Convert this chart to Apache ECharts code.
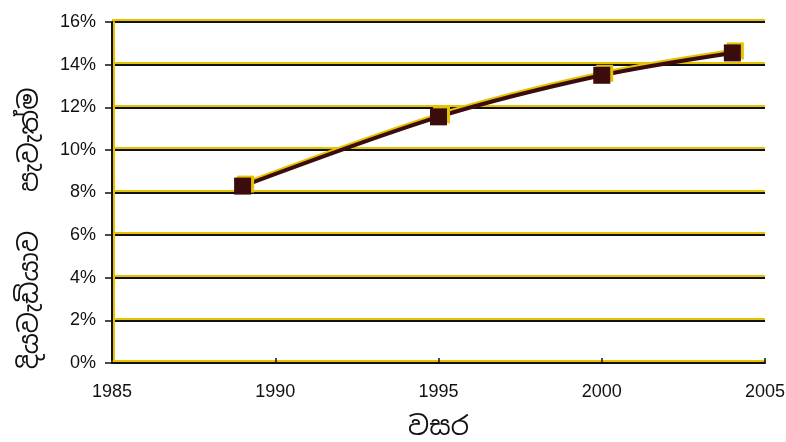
<!DOCTYPE html>
<html>
<head>
<meta charset="utf-8">
<script src="https://cdn.jsdelivr.net/npm/echarts@6/dist/echarts.min.js"></script>
<style>html,body{margin:0;padding:0;background:#fff;}#c{width:786px;height:442px;}</style>
</head>
<body>
<div id="c"></div>
<script>
var years = [1989, 1995, 2000, 2004];
var prevalence = [8.3, 11.55, 13.5, 14.55];
var xTicks = [1985, 1990, 1995, 2000, 2005];
var yTicks = [0, 2, 4, 6, 8, 10, 12, 14, 16];
var xName = 'වසර';
var yName = 'දියවැඩියාව   පැවැත්ම';

var yellow = '#e6c200';
var lblStyle = {
  color: '#111', fontFamily: 'Liberation Sans, Arial, sans-serif', fontSize: 18, letterSpacing: -1,
  textShadowColor: yellow, textShadowOffsetX: 2, textShadowOffsetY: 0, textShadowBlur: 0
};
var chart = echarts.init(document.getElementById('c'));
chart.setOption({
  backgroundColor: '#fff',
  animation: false,
  grid: {left: 112, right: 21, top: 22, bottom: 79, containLabel: false, outerBoundsMode: 'none'},
  xAxis: {
    type: 'value', min: 1985, max: 2005, interval: 5,
    name: xName, nameLocation: 'middle', nameGap: 52,
    nameTextStyle: {fontSize: 26, color: '#111', fontFamily: 'Noto Sans Sinhala, Noto Sans, sans-serif'},
    axisLine: {lineStyle: {color: '#111', width: 2, shadowColor: yellow, shadowOffsetY: -2}},
    axisTick: {inside: true, length: 5, lineStyle: {color: '#111', width: 1.5}},
    splitLine: {show: false},
    axisLabel: Object.assign({margin: 20, formatter: function(v){return xTicks.indexOf(v) >= 0 ? String(v) : '';}}, lblStyle)
  },
  yAxis: {
    type: 'value', min: 0, max: 16, interval: 2,
    name: yName, nameLocation: 'middle', nameRotate: 90, nameGap: 68,
    nameTextStyle: {fontSize: 26, color: '#111', fontFamily: 'Noto Sans Sinhala, Noto Sans, sans-serif', padding: [0, 72, 0, 0]},
    axisLine: {show: true, lineStyle: {color: '#111', width: 2, shadowColor: yellow, shadowOffsetX: 2}},
    axisTick: {show: true, length: 7, lineStyle: {color: '#111', width: 1.5}},
    splitLine: {show: true, lineStyle: {color: '#111', width: 2, shadowColor: yellow, shadowOffsetY: -2, shadowBlur: 0}},
    axisLabel: Object.assign({margin: 16, formatter: function(v){return yTicks.indexOf(v) >= 0 ? v + '%' : '';}}, lblStyle)
  },
  series: [{
    type: 'line',
    data: years.map(function(y, i){ return [y, prevalence[i]]; }),
    smooth: 0.3,
    symbol: 'rect', symbolSize: 17,
    lineStyle: {color: '#3a0c0c', width: 4, shadowColor: yellow, shadowOffsetY: -2, shadowBlur: 0},
    itemStyle: {color: '#3a0c0c', shadowColor: yellow, shadowOffsetX: 3, shadowOffsetY: -2, shadowBlur: 0}
  }]
});
</script>
</body>
</html>
